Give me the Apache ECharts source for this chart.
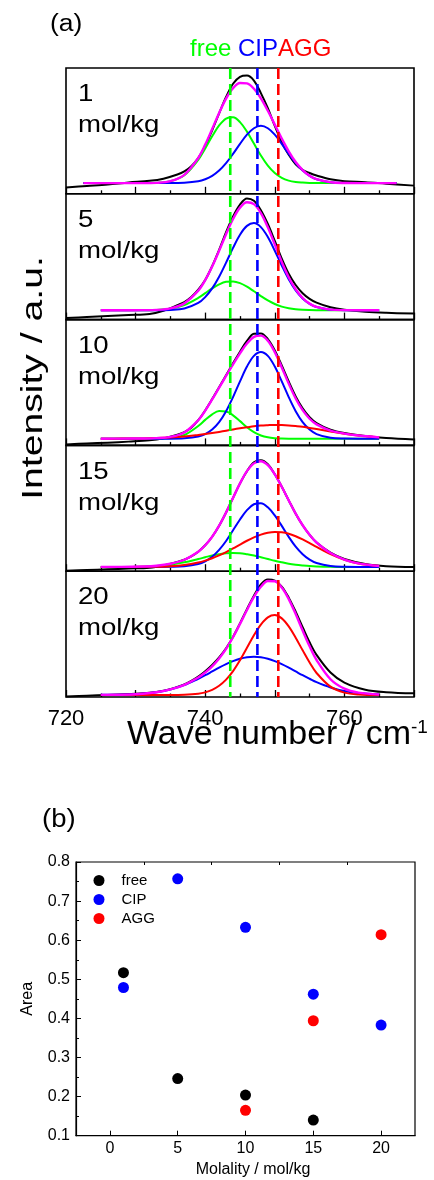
<!DOCTYPE html>
<html>
<head>
<meta charset="utf-8">
<script src="https://cdn.jsdelivr.net/npm/echarts@6/dist/echarts.min.js"></script>
<style>
  html, body { margin: 0; padding: 0; background: #fff; }
  #chart { width: 434px; height: 1180px; }
</style>
</head>
<body>
<div id="chart"></div>
<script>
// ---------- (a) Raman band of the anion, five molalities ----------
// wave-number grids (cm-1)
const wavenumberData = [720, 723, 726, 729, 732, 734, 736, 737, 738, 739, 740, 741, 742, 743, 744, 745, 746, 747, 748, 749, 750, 751, 752, 753, 754, 755, 756, 758, 760, 763, 766, 770];
const wavenumberFit1 = [722.5, 725, 728, 731, 733, 735, 737, 739, 740, 741, 742, 743, 744, 745, 746, 747, 748, 749, 750, 751, 752, 753, 754, 755, 756, 758, 760, 762, 765, 767.5];
const wavenumberFit = [725, 728, 731, 733, 735, 737, 739, 740, 741, 742, 743, 744, 745, 746, 747, 748, 749, 750, 751, 752, 753, 754, 755, 756, 758, 760, 762, 765];

// band centres of the three species (cm-1)
const bandCentres = [743.6, 747.5, 750.5];
const bandNames = ['free', 'CIP', 'AGG'];

// 1 mol/kg
const measured1 = [5.0, 6.2, 7.4, 9.0, 10.3, 12.0, 15.3, 17.8, 22.0, 28.5, 38.0, 50.5, 64.0, 77.0, 87.5, 93.0, 94.0, 90.0, 80.0, 68.0, 54.0, 41.0, 31.0, 23.5, 19.0, 16.5, 14.5, 11.5, 10.0, 9.2, 8.0, 6.5];
const free1 = [8.5, 8.5, 8.5, 8.5, 8.7, 10.0, 14.8, 27.0, 36.0, 45.7, 54.3, 59.8, 60.8, 57.0, 49.4, 39.9, 30.4, 22.4, 16.5, 12.7, 10.5, 9.4, 8.9, 8.6, 8.5, 8.5, 8.5, 8.5, 8.5, 8.5];
const cip1 = [8.5, 8.5, 8.5, 8.5, 8.5, 8.5, 8.8, 10.0, 11.6, 14.3, 18.5, 24.4, 31.7, 39.7, 47.0, 52.1, 54.0, 52.1, 47.0, 39.7, 31.7, 24.4, 18.5, 14.3, 11.6, 9.2, 8.6, 8.5, 8.5, 8.5];
const fit1 = [8.5, 8.5, 8.5, 8.5, 8.7, 10.0, 15.1, 28.5, 39.1, 51.5, 64.3, 75.7, 84.0, 88.1, 87.8, 83.5, 75.9, 66.0, 55.0, 43.9, 33.8, 25.3, 18.9, 14.4, 11.6, 9.2, 8.6, 8.5, 8.5, 8.5];

// 5 mol/kg
const measured5 = [1.3, 2.0, 2.8, 3.6, 4.4, 7.0, 11.5, 14.0, 18.0, 23.8, 31.5, 42.5, 55.5, 69.5, 82.0, 91.5, 96.3, 94.5, 87.0, 76.0, 62.5, 48.5, 36.5, 27.5, 21.0, 16.5, 13.5, 9.8, 7.8, 6.2, 5.4, 4.8];
const free5 = [7.4, 7.4, 7.5, 7.7, 8.6, 11.5, 17.2, 21.0, 24.8, 28.0, 30.0, 30.3, 29.0, 26.2, 22.5, 18.7, 15.2, 12.4, 10.3, 9.0, 8.2, 7.8, 7.6, 7.5, 7.4, 7.4, 7.4, 7.4];
const cip5 = [7.4, 7.4, 7.4, 7.4, 7.7, 8.8, 13.2, 17.9, 24.8, 34.1, 45.3, 57.0, 67.5, 74.5, 76.7, 73.5, 65.6, 54.7, 43.0, 32.1, 23.2, 16.8, 12.5, 10.0, 7.9, 7.5, 7.4, 7.4];
const fit5 = [7.4, 7.4, 7.5, 7.7, 8.9, 12.9, 23.0, 31.4, 42.2, 54.7, 67.9, 80.0, 89.0, 93.3, 91.8, 84.7, 73.4, 59.7, 45.9, 33.7, 24.1, 17.2, 12.7, 10.1, 7.9, 7.5, 7.4, 7.4];

// 10 mol/kg
const measured10 = [0.8, 1.5, 2.2, 3.0, 4.0, 5.6, 8.5, 10.6, 14.0, 20.0, 27.8, 36.8, 46.3, 55.8, 65.2, 74.5, 83.0, 88.8, 89.0, 84.5, 75.5, 63.5, 50.8, 39.0, 29.5, 22.5, 17.8, 12.5, 9.8, 7.4, 5.8, 4.6];
const free10 = [5.3, 5.3, 5.3, 5.4, 5.8, 8.3, 15.4, 20.3, 24.7, 27.3, 27.0, 23.9, 19.3, 14.4, 10.5, 7.9, 6.4, 5.7, 5.4, 5.3, 5.3, 5.3, 5.3, 5.3, 5.3, 5.3, 5.3, 5.3];
const cip10 = [5.3, 5.3, 5.3, 5.3, 5.3, 5.6, 7.0, 9.0, 12.6, 18.5, 27.2, 38.4, 50.9, 62.7, 71.2, 74.3, 71.2, 62.7, 50.9, 38.4, 27.2, 18.5, 12.6, 9.0, 6.0, 5.4, 5.3, 5.3];
const agg10 = [5.3, 5.4, 5.5, 5.8, 6.3, 7.1, 8.3, 9.0, 9.8, 10.7, 11.7, 12.7, 13.6, 14.4, 15.2, 15.8, 16.1, 16.3, 16.2, 15.9, 15.4, 14.8, 13.9, 13.0, 11.1, 9.3, 7.9, 6.4];
const fit10 = [5.3, 5.4, 5.5, 5.8, 6.8, 10.3, 20.0, 27.6, 36.5, 45.9, 55.2, 64.4, 73.2, 81.0, 86.3, 87.3, 83.2, 74.1, 62.0, 49.1, 37.3, 28.0, 21.2, 16.7, 11.8, 9.4, 7.9, 6.4];

// 15 mol/kg
const measured15 = [0.3, 0.9, 1.5, 2.1, 2.8, 4.6, 7.3, 9.1, 11.8, 15.5, 20.6, 27.4, 36.2, 46.7, 58.3, 69.8, 79.5, 86.5, 88.2, 85.0, 77.0, 67.1, 56.3, 45.7, 36.5, 28.9, 22.8, 14.8, 9.8, 5.8, 4.0, 3.4];
const free15 = [3.4, 3.4, 3.6, 4.1, 5.2, 7.1, 9.7, 11.1, 12.5, 13.5, 14.3, 14.5, 14.3, 13.5, 12.5, 11.1, 9.7, 8.3, 7.1, 6.0, 5.2, 4.6, 4.1, 3.8, 3.5, 3.4, 3.4, 3.4];
const cip15 = [3.4, 3.4, 3.4, 3.4, 3.5, 3.9, 5.7, 7.9, 11.5, 16.9, 24.0, 32.5, 41.1, 48.6, 53.2, 54.0, 50.8, 44.3, 36.0, 27.3, 19.5, 13.5, 9.2, 6.5, 4.1, 3.5, 3.4, 3.4];
const agg15 = [3.4, 3.4, 3.5, 3.6, 4.0, 5.0, 6.9, 8.4, 10.3, 12.6, 15.2, 18.1, 21.2, 24.2, 26.9, 29.1, 30.6, 31.2, 30.9, 29.8, 27.8, 25.3, 22.4, 19.3, 13.6, 9.1, 6.2, 4.1];
const fit15 = [3.4, 3.4, 3.7, 4.3, 5.9, 9.1, 15.5, 20.6, 27.4, 36.2, 46.7, 58.3, 69.8, 79.5, 85.7, 87.4, 84.3, 77.0, 67.1, 56.3, 45.7, 36.5, 28.9, 22.8, 14.4, 9.2, 6.2, 4.1];

// 20 mol/kg
const measured20 = [0.3, 1.0, 1.6, 2.4, 3.3, 5.0, 8.0, 10.0, 12.8, 16.2, 20.5, 25.5, 31.5, 38.8, 47.8, 58.5, 69.8, 80.5, 89.5, 93.4, 92.5, 87.8, 79.0, 67.8, 55.5, 43.5, 33.5, 19.5, 11.5, 5.8, 3.8, 2.9];
const cip20 = [1.7, 1.8, 2.6, 3.8, 6.0, 9.5, 14.5, 17.3, 20.3, 23.3, 26.1, 28.5, 30.4, 31.6, 32.0, 31.6, 30.4, 28.5, 26.1, 23.3, 20.3, 17.3, 14.5, 11.8, 7.6, 4.7, 3.1, 2.0];
const agg20 = [1.6, 1.6, 1.6, 1.6, 1.6, 1.8, 2.6, 3.7, 5.7, 8.9, 13.8, 20.6, 29.3, 39.1, 49.1, 57.6, 63.3, 65.1, 62.5, 56.1, 47.1, 37.1, 27.4, 19.1, 8.2, 3.5, 2.0, 1.6];
const fit20 = [1.7, 1.8, 2.6, 3.8, 6.0, 9.7, 15.5, 19.5, 24.4, 30.7, 38.3, 47.6, 58.1, 69.1, 79.5, 87.6, 92.2, 92.0, 87.0, 77.8, 65.9, 52.8, 40.3, 29.4, 14.1, 6.6, 3.5, 2.0];

const molalityLabels = ['1', '5', '10', '15', '20'];

// ---------- (b) peak areas ----------
const molality = [1, 5, 10, 15, 20];
const areaFree = [0.517, 0.246, 0.204, 0.140, null];
const areaCIP = [0.479, 0.757, 0.633, 0.462, 0.383];
const areaAGG = [null, null, 0.165, 0.394, 0.614];
const molalityTicks = [0, 5, 10, 15, 20];
const molalityMinorTicks = [2.5, 7.5, 12.5, 17.5];

// ---------- styling ----------
const FAMILY = '"Liberation Sans", Arial, Helvetica, sans-serif';
const font = (px) => px + 'px ' + FAMILY;
const GREEN = '#00ff00', BLUE = '#0000ff', RED = '#ff0000', MAGENTA = '#ff00ff', BLACK = '#000000';
const speciesColors = [GREEN, BLUE, RED];

const PANEL_LEFT = 66, PANEL_RIGHT = 20, PANEL_TOP = 68, PANEL_H = 125.8;

const panels = [
  { label: molalityLabels[0], wn: wavenumberFit1, measured: measured1, comps: [[free1, GREEN], [cip1, BLUE]], fit: fit1 },
  { label: molalityLabels[1], wn: wavenumberFit, measured: measured5, comps: [[free5, GREEN], [cip5, BLUE]], fit: fit5 },
  { label: molalityLabels[2], wn: wavenumberFit, measured: measured10, comps: [[free10, GREEN], [cip10, BLUE], [agg10, RED]], fit: fit10 },
  { label: molalityLabels[3], wn: wavenumberFit, measured: measured15, comps: [[free15, GREEN], [cip15, BLUE], [agg15, RED]], fit: fit15 },
  { label: molalityLabels[4], wn: wavenumberFit, measured: measured20, comps: [[cip20, BLUE], [agg20, RED]], fit: fit20 }
];

const zip = (xs, ys) => xs.map((x, k) => [x, ys[k]]).filter(p => p[1] !== null);

const grids = [], xAxes = [], yAxes = [], series = [], graphics = [];

function txt(text, x, y, size, color, extra) {
  return Object.assign({
    type: 'text', x: x, y: y, silent: true, z: 100,
    style: {
      text: text, font: font(size), fill: color || BLACK,
      align: 'left', verticalAlign: 'middle', textAlign: 'left', textVerticalAlign: 'middle'
    }
  }, extra || {});
}

panels.forEach((p, i) => {
  const top = PANEL_TOP + i * PANEL_H;
  grids.push({
    left: PANEL_LEFT, right: PANEL_RIGHT, top: top, height: PANEL_H,
    show: true, borderColor: BLACK, borderWidth: 1.6, backgroundColor: 'transparent'
  });
  xAxes.push({
    gridIndex: i, type: 'value', min: 720, max: 770, interval: 10,
    axisLine: { show: false, onZero: false },
    axisTick: { show: true, inside: true, length: 7, lineStyle: { color: BLACK, width: 1.3 } },
    minorTick: { show: true, splitNumber: 2, length: 3.5, lineStyle: { color: BLACK, width: 1.3 } },
    splitLine: { show: false }, minorSplitLine: { show: false },
    axisLabel: {
      show: i === panels.length - 1, margin: 11, color: BLACK, fontSize: 22, fontFamily: FAMILY,
      formatter: (v) => (v % 20 === 0 ? String(v) : '')
    }
  });
  yAxes.push({ gridIndex: i, type: 'value', min: 0, max: 100, show: false });

  const line = (wn, vals, color, width, z) => ({
    type: 'line', xAxisIndex: i, yAxisIndex: i, data: zip(wn, vals),
    smooth: 0.35, showSymbol: false, symbol: 'none', silent: true, z: z,
    lineStyle: { color: color, width: width, join: 'round' }, itemStyle: { color: color }
  });
  series.push(line(wavenumberData, p.measured, BLACK, 2, 2));
  p.comps.forEach(([vals, color]) => series.push(line(p.wn, vals, color, 2, 3)));
  series.push(line(p.wn, p.fit, MAGENTA, 2.4, 4));

  graphics.push(txt(p.label, 78, top + 26.5, 24, BLACK, { scaleX: 1.15 }));
  graphics.push(txt('mol/kg', 78, top + 57.5, 24, BLACK, { scaleX: 1.15 }));
});

// dashed band-centre markers spanning all five panels
const overlayIdx = panels.length;
grids.push({ left: PANEL_LEFT, right: PANEL_RIGHT, top: PANEL_TOP, height: PANEL_H * panels.length, show: false });
xAxes.push({ gridIndex: overlayIdx, type: 'value', min: 720, max: 770, show: false });
yAxes.push({ gridIndex: overlayIdx, type: 'value', min: 0, max: 1, show: false });
bandCentres.forEach((c, k) => {
  series.push({
    type: 'line', xAxisIndex: overlayIdx, yAxisIndex: overlayIdx, data: [[c, 1], [c, 0]],
    showSymbol: false, symbol: 'none', silent: true, z: 10,
    lineStyle: { color: speciesColors[k], width: 2.6, type: [11, 5] }
  });
});

// panel (b)
const bIdx = overlayIdx + 1;
grids.push({ left: 76, right: 19, top: 862, height: 273.7, show: true, borderColor: BLACK, borderWidth: 1.2, backgroundColor: 'transparent' });
xAxes.push({
  gridIndex: bIdx, type: 'value', min: -2.5, max: 22.5,
  axisLine: { show: true, onZero: false, lineStyle: { color: BLACK, width: 1.2 } },
  axisTick: { show: true, inside: true, length: 5, customValues: molalityTicks, lineStyle: { color: BLACK, width: 1 } },
  axisLabel: { customValues: molalityTicks, margin: 5, color: BLACK, fontSize: 16, fontFamily: FAMILY },
  splitLine: { show: false },
  name: 'Molality / mol/kg', nameLocation: 'middle', nameGap: 26,
  nameTextStyle: { color: BLACK, fontSize: 16, fontFamily: FAMILY, padding: [0, 0, 0, 15] }
});
xAxes.push({
  gridIndex: bIdx, type: 'value', min: -2.5, max: 22.5,
  axisLine: { show: false, onZero: false },
  axisTick: { show: true, inside: true, length: 3, customValues: molalityMinorTicks, lineStyle: { color: BLACK, width: 1 } },
  axisLabel: { show: false }, splitLine: { show: false }
});
yAxes.push({
  gridIndex: bIdx, type: 'value', min: 0.1, max: 0.8, interval: 0.1,
  axisLine: { show: true, onZero: false, lineStyle: { color: BLACK, width: 1.2 } },
  axisTick: { show: true, inside: true, length: 5, lineStyle: { color: BLACK, width: 1 } },
  minorTick: { show: true, splitNumber: 2, length: 3, lineStyle: { color: BLACK, width: 1 } },
  splitLine: { show: false }, minorSplitLine: { show: false },
  axisLabel: { margin: 6, color: BLACK, fontSize: 16, fontFamily: FAMILY, formatter: (v) => v.toFixed(1) },
  name: 'Area', nameLocation: 'middle', nameGap: 40,
  nameTextStyle: { color: BLACK, fontSize: 16, fontFamily: FAMILY }
});
[[areaFree, BLACK], [areaCIP, BLUE], [areaAGG, RED]].forEach(([vals, color], k) => {
  series.push({
    type: 'scatter', name: bandNames[k], xAxisIndex: xAxes.length - 2, yAxisIndex: yAxes.length - 1,
    data: zip(molality, vals), symbol: 'circle', symbolSize: 11,
    itemStyle: { color: color, opacity: 1 }, silent: true
  });
});

// titles and panel captions
graphics.push(txt('(a)', 50, 24.5, 23, BLACK, { scaleX: 1.15 }));
graphics.push(txt('free', 190, 49.5, 24, GREEN));
graphics.push(txt('CIP', 238, 49.5, 24, BLUE));
graphics.push(txt('AGG', 278, 49.5, 24, RED));
graphics.push({
  type: 'text', x: 34, y: 378, rotation: Math.PI / 2, scaleX: 1.35, silent: true, z: 100,
  style: { text: 'Intensity / a.u.', font: font(29), fill: BLACK, align: 'center', verticalAlign: 'middle', textAlign: 'center', textVerticalAlign: 'middle' }
});
graphics.push({
  type: 'text', x: 127, y: 735, silent: true, z: 100,
  style: {
    text: '{m|Wave number / cm}{s|-1}', fill: BLACK,
    align: 'left', verticalAlign: 'middle', textAlign: 'left', textVerticalAlign: 'middle',
    rich: {
      m: { fontSize: 34, fontFamily: FAMILY, fill: BLACK },
      s: { fontSize: 19, fontFamily: FAMILY, fill: BLACK, verticalAlign: 'top' }
    }
  }
});
graphics.push(txt('(b)', 42, 820, 25, BLACK, { scaleX: 1.1 }));

const chart = echarts.init(document.getElementById('chart'), null, { renderer: 'canvas' });
chart.setOption({
  animation: false,
  backgroundColor: '#ffffff',
  grid: grids,
  xAxis: xAxes,
  yAxis: yAxes,
  legend: {
    data: bandNames, orient: 'vertical', left: 93.5, top: 873, padding: 0,
    itemWidth: 11, itemHeight: 11, itemGap: 4, icon: 'circle', selectedMode: false,
    textStyle: { color: BLACK, fontSize: 15, fontFamily: FAMILY, lineHeight: 11, padding: [0, 0, 0, 12] }
  },
  series: series,
  graphic: graphics
});
</script>
</body>
</html>
